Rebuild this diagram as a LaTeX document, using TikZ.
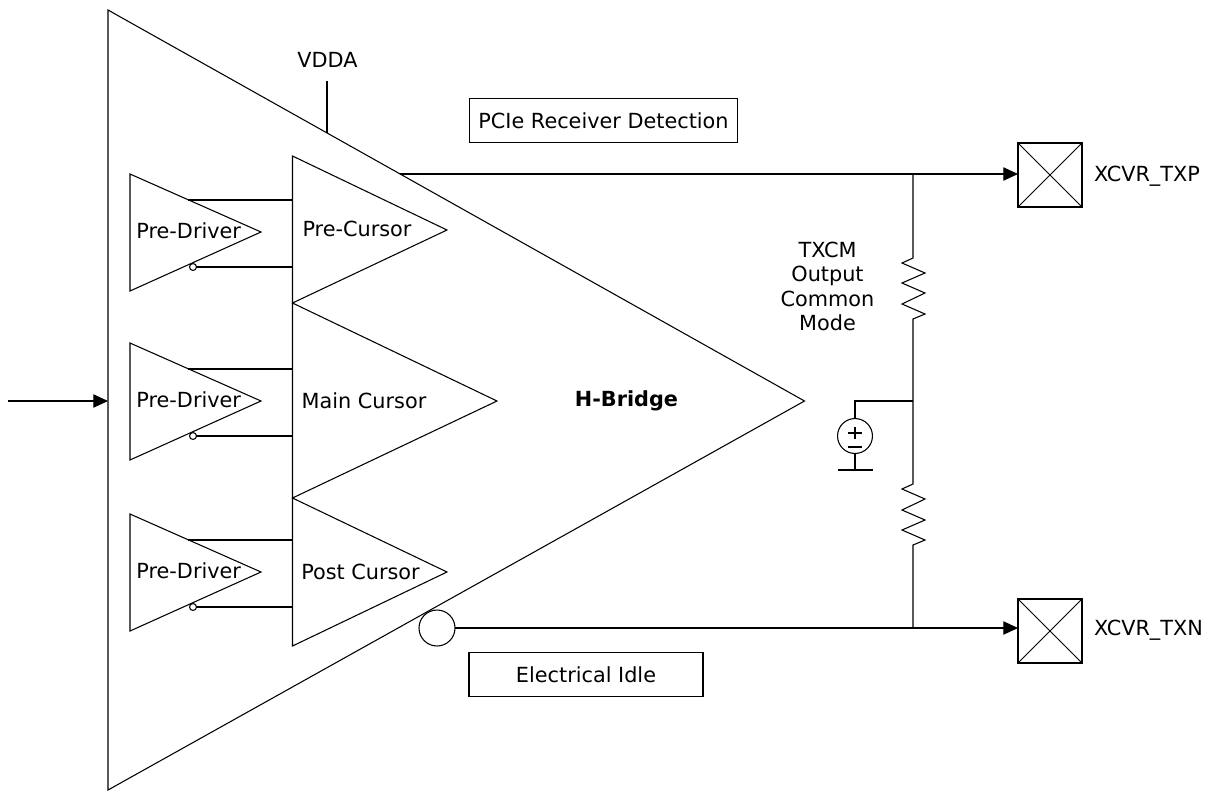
\documentclass[tikz,border=0pt]{standalone}
\usepackage{fontspec}
\setmainfont{DejaVu Sans}
\usetikzlibrary{arrows.meta}
\tikzset{
  x=0.75pt,y=-0.75pt,
  every node/.style={font=\fontsize{15.6pt}{18.2pt}\selectfont,inner sep=0pt,outer sep=0pt},
  wire/.style={draw=black,line width=0.8pt},
  arrowwire/.style={wire,-{Triangle[length=11pt,width=10pt]}},
  labelbox/.style={draw=black,line width=0.8pt,fill=white},
  pad/.style={draw=black,line width=0.95pt,minimum width=48pt,minimum height=48pt},
  bubble/.style={circle,draw=black,line width=0.8pt,fill=white},
}
\newcommand{\predriver}[2]{%
  % #1 name, #2 top y
  \coordinate (#1t) at (130,#2);
  \coordinate (#1b) at (130,#2+117);
  \coordinate (#1a) at (261,#2+58);
  \draw[wire] (#1t) -- (#1b) -- (#1a) -- cycle;
  \node (#1l) at (188.7,#2+57) {Pre-Driver};
  \coordinate (#1u) at (188,#2+26);
  \coordinate (#1p) at (292.5,#2+26);
  \draw[wire] (#1u) -- (#1p);
  \coordinate (#1q) at (292.5,#2+93);
  \node[bubble,minimum size=5.2pt] (#1c) at (193,#2+93) {};
  \draw[wire] (#1c) -- (#1q);
}
\begin{document}
\begin{tikzpicture}
\useasboundingbox (0,0) rectangle (1210,790);
% main triangle
\coordinate (bigT) at (108,10);
\coordinate (bigB) at (108,790);
\coordinate (bigA) at (804.5,401);
\draw[wire] (bigT) -- (bigB) -- (bigA) -- cycle;
\coordinate (inp) at (8,401);
\coordinate (inpE) at (108,401);
\draw[arrowwire] (inp) -- (inpE);
% vdda
\node (vdda) at (327.5,60) {VDDA};
\coordinate (vddaT) at (327,81);
\coordinate (vddaB) at (327,133);
\draw[wire] (vddaT) -- (vddaB);
% predrivers
\predriver{pa}{174}
\predriver{pb}{343}
\predriver{pc}{514}
% cursor triangles
\coordinate (cT) at (292.5,156);
\coordinate (cA) at (292.5,303);
\coordinate (cB) at (292.5,498);
\coordinate (cC) at (292.5,646);
\coordinate (aA) at (447,230);
\coordinate (aB) at (497,401);
\coordinate (aC) at (447,572);
\draw[wire] (cT) -- (cC) -- (aC) -- (cB) -- (aB) -- (cA) -- (aA) -- cycle;
\node (precur) at (357,229) {Pre-Cursor};
\node (maincur) at (364,401) {Main Cursor};
\node (postcur) at (360.5,572) {Post Cursor};
\node[font=\fontsize{15.6pt}{18.2pt}\selectfont\bfseries] (hb) at (626.5,401) {H-Bridge};
% boxes
\node[labelbox,minimum width=201.5pt,minimum height=32.5pt] (pcie) at (603.5,120.5) {PCIe Receiver Detection};
\node[labelbox,minimum width=175.5pt,minimum height=33.5pt] (idle) at (586,674.5) {Electrical Idle};
% pads
\node[pad] (txp) at (1050,175) {};
\node[pad] (txn) at (1050,631) {};
\foreach \p in {txp,txn}{
  \draw[wire,line width=0.7pt] (\p.north west) -- (\p.south east);
  \draw[wire,line width=0.7pt] (\p.south west) -- (\p.north east);
}
\node[anchor=west] (txpl) at (1094,176) {XCVR\_TXP};
\node[anchor=west] (txnl) at (1094,630) {XCVR\_TXN};
% outputs
\coordinate (topS) at (400,174);
\coordinate (jTop) at (913,174);
\draw[wire] (topS) -- (jTop);
\draw[arrowwire] (jTop) -- (txp.west |- jTop);
\node[bubble,minimum size=27pt] (inv) at (437,628) {};
\coordinate (jBot) at (913,628);
\draw[wire] (inv) -- (jBot);
\draw[arrowwire] (jBot) -- (txn.west |- jBot);
% resistors and centre
\coordinate (jMid) at (913,401);
\draw[wire,line join=miter] (jTop) -- (913,258) -- (902,263) -- (925,273) -- (902,283) -- (925,293) -- (902,304) -- (925,314) -- (913,319) -- (jMid);
\draw[wire,line join=miter] (jMid) -- (913,484) -- (902,489) -- (925,499) -- (902,510) -- (925,520) -- (902,530) -- (925,540) -- (913,545) -- (jBot);
\node[align=center] (txcm) at (827.5,286.5) {TXCM\\Output\\Common\\Mode};
% source
\node[bubble,minimum size=26.2pt,fill=none] (src) at (855,436) {};
\coordinate (gnd) at (855,470);
\draw[wire] (jMid) -| (src.north);
\draw[wire] (src.south) -- (gnd);
\coordinate (gl) at (838,470);
\coordinate (gr) at (873,470);
\draw[wire] (gl) -- (gr);
\coordinate (pL) at (848,433); \coordinate (pR) at (862,433);
\coordinate (pU) at (855,427); \coordinate (pD) at (855,439);
\coordinate (mL) at (848,447); \coordinate (mR) at (862,447);
\draw[wire] (pL) -- (pR) (pU) -- (pD) (mL) -- (mR);
\end{tikzpicture}
\end{document}
